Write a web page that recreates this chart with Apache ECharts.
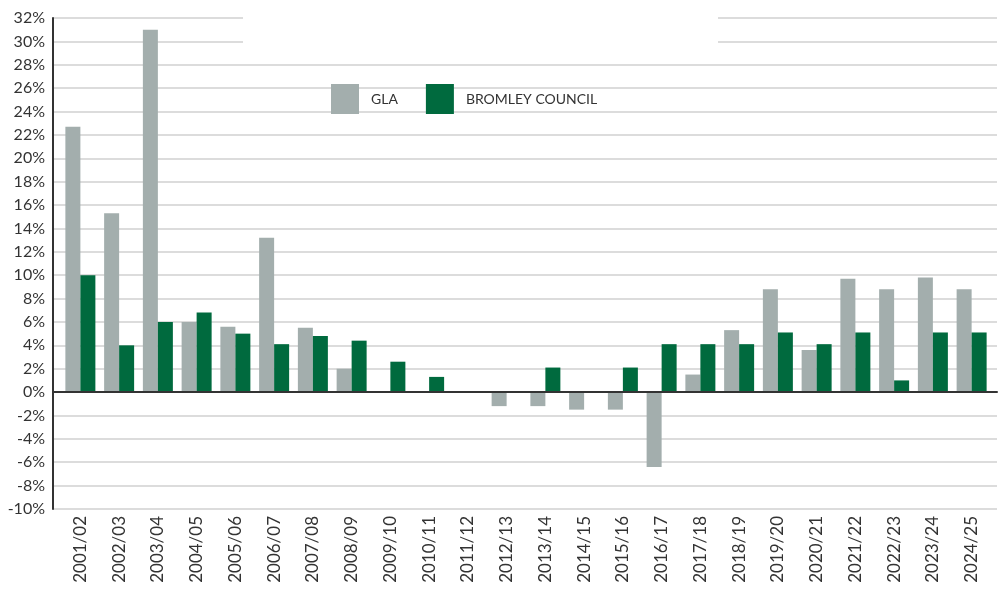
<!DOCTYPE html>
<html>
<head>
<meta charset="utf-8">
<script src="https://cdn.jsdelivr.net/npm/echarts@6/dist/echarts.min.js"></script>
<style>html,body{margin:0;padding:0;background:#fff}#c{width:1000px;height:593px}</style>
</head>
<body>
<div id="c"></div>
<script>
const categories = ['2001/02','2002/03','2003/04','2004/05','2005/06','2006/07','2007/08','2008/09','2009/10','2010/11','2011/12','2012/13','2013/14','2014/15','2015/16','2016/17','2017/18','2018/19','2019/20','2020/21','2021/22','2022/23','2023/24','2024/25'];
const glaValues = [22.7,15.3,31.0,6.0,5.6,13.2,5.5,2.0,0,0,0,-1.2,-1.2,-1.5,-1.5,-6.4,1.5,5.3,8.8,3.6,9.7,8.8,9.8,8.8];
const bromleyValues = [10.0,4.0,6.0,6.8,5.0,4.1,4.8,4.4,2.6,1.3,0,0,2.1,0,2.1,4.1,4.1,4.1,5.1,4.1,5.1,1.0,5.1,5.1];
const seriesNames = ['GLA','BROMLEY COUNCIL'];
const yMin = -10, yMax = 32, yStep = 2;

const font = 'Lato, "DejaVu Sans", sans-serif';
const chart = echarts.init(document.getElementById('c'));
chart.setOption({
  animation: false,
  backgroundColor: '#fff',
  legend: {
    left: 326, top: 79,
    itemWidth: 28, itemHeight: 30, itemGap: 28,
    icon: 'rect',
    textStyle: { fontFamily: font, fontSize: 14, color: '#333', padding: [0,0,0,7] },
    data: seriesNames
  },
  graphic: [{ type: 'rect', z: 100, shape: { x: 243, y: 0, width: 475, height: 50 }, style: { fill: '#fff' } }],
  grid: [
    { left: 53, right: 3, top: 18, bottom: 84 },
    { left: 61, right: 9, top: 18, bottom: 84 }
  ],
  xAxis: [
    { gridIndex: 0, type: 'category', data: categories, axisLabel: { show: false }, axisTick: { show: false },
      axisLine: { show: true, onZero: true, lineStyle: { color: '#333', width: 2 } }, z: 10 },
    { gridIndex: 1, type: 'category', data: categories, position: 'bottom',
      axisLine: { show: false, onZero: false }, axisTick: { show: false },
      axisLabel: { rotate: 90, interval: 0, margin: 7, fontFamily: font, fontSize: 17, color: '#333' } }
  ],
  yAxis: [
    { gridIndex: 0, type: 'value', min: yMin, max: yMax, interval: yStep,
      axisLine: { show: true, lineStyle: { color: '#333', width: 2 } },
      axisTick: { show: false },
      splitLine: { lineStyle: { color: '#d0d0d0', width: 1.5 } },
      axisLabel: { formatter: '{value}%', fontFamily: font, fontSize: 16, color: '#333', margin: 8 } },
    { gridIndex: 1, type: 'value', min: yMin, max: yMax, interval: yStep, show: false, splitLine: { show: false } }
  ],
  series: [
    { name: seriesNames[0], type: 'bar', xAxisIndex: 1, yAxisIndex: 1, data: glaValues, barWidth: 15, barGap: '0%', itemStyle: { color: '#a3aead' } },
    { name: seriesNames[1], type: 'bar', xAxisIndex: 1, yAxisIndex: 1, data: bromleyValues, barWidth: 15, barGap: '0%', itemStyle: { color: '#006a3e' } }
  ]
});
</script>
</body>
</html>
